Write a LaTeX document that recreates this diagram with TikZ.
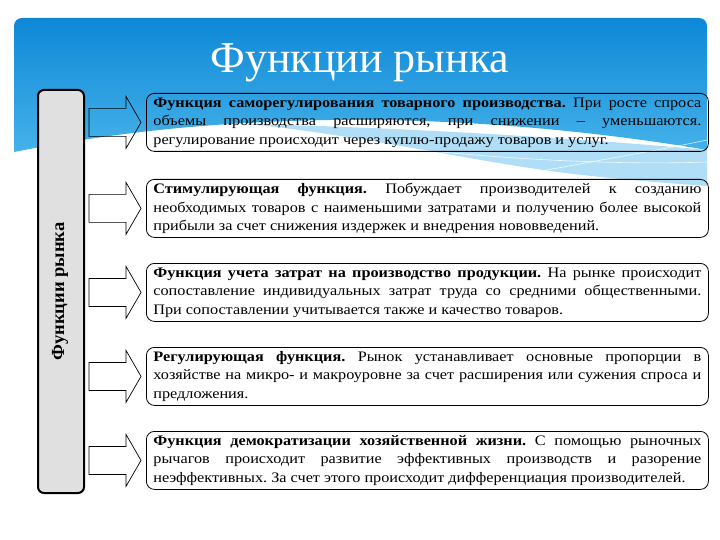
\documentclass[tikz,border=0pt]{standalone}
\usepackage{fontspec}
\setmainfont{Liberation Serif}
\newfontfamily\bodyfont[FakeStretch=1.12]{Liberation Serif}
\usetikzlibrary{calc}
\definecolor{bannerTop}{HTML}{0E88D6}
\definecolor{bannerBot}{HTML}{45B2EA}
\definecolor{swoosh}{HTML}{9DD6F4}
\definecolor{sidegray}{HTML}{E0E0E0}
\newcommand\blockarrow[1]{%
  \draw[barrow] ($(#1.west)+(-57,-14)$) -- ($(#1.west)+(-20,-14)$) -- ($(#1.west)+(-20,-26)$)
   -- ($(#1.west)+(-5,0)$) -- ($(#1.west)+(-20,26)$) -- ($(#1.west)+(-20,14)$)
   -- ($(#1.west)+(-57,14)$) -- cycle;}
\newcommand\jsetup{\tolerance=10000\relax\hyphenpenalty=10000\relax\frenchspacing}
\begin{document}
\begin{tikzpicture}[x=1pt,y=-1pt,
  txt/.style={draw=black, line width=0.8pt, rounded corners=8pt, text width=548pt,
    align=justify, inner xsep=7pt, inner ysep=3pt, minimum height=58pt, anchor=north west,
    font=\bodyfont\fontsize{14.5}{18.5}\selectfont, execute at begin node=\jsetup},
  barrow/.style={draw=black, line width=0.7pt},
  side/.style={draw=black, line width=2pt, rounded corners=6pt, fill=sidegray,
    minimum width=46pt, minimum height=403pt, inner sep=0pt},
]
\useasboundingbox (0,0) rectangle (720,540);
\fill[white] (0,0) rectangle (720,540);
% banner
\shade[top color=bannerTop, bottom color=bannerBot, rounded corners=8pt]
  (14,152) -- (14,18) -- (707,18) [sharp corners] -- (707,150)
  .. controls (620,135) and (480,118) .. (330,120)
  .. controls (200,122) and (100,135) .. (14,152) -- cycle;
\fill[swoosh, opacity=0.8]
  (250,124) .. controls (420,128) and (600,140) .. (707,150) -- (707,186)
  .. controls (650,182) and (580,176) .. (530,168)
  .. controls (450,156) and (360,136) .. (250,124) -- cycle;
\draw[white, line width=0.6pt, opacity=0.8] (420,150) .. controls (520,160) and (620,165) .. (707,162);
\draw[white, line width=0.6pt, opacity=0.8] (520,175) .. controls (600,160) and (660,150) .. (707,140);
% title
\node[anchor=base, text=white, font=\fontsize{44}{44}\selectfont] (title) at (360,73) {Функции рынка};
% side box
\node[side] (side) at (61,291.5) {};
\node[rotate=90, font=\fontsize{18.5}{18.5}\selectfont\bfseries] (sidetext) at ([xshift=-1pt]side.center) {Функции рынка};
% text boxes
\node[txt] (b1) at (146,93) {\textbf{Функция саморегулирования товарного производства.} При росте спроса\linebreak
объемы производства расширяются, при снижении – уменьшаются.\linebreak
регулирование происходит через куплю-продажу товаров и услуг.};
\node[txt] (b2) at (146,179) {\textbf{Стимулирующая функция.} Побуждает производителей к созданию\linebreak
необходимых товаров с наименьшими затратами и получению более высокой\linebreak
прибыли за счет снижения издержек и внедрения нововведений.};
\node[txt] (b3) at (146,263) {\textbf{Функция учета затрат на производство продукции.} На рынке происходит\linebreak
сопоставление индивидуальных затрат труда со средними общественными.\linebreak
При сопоставлении учитывается также и качество товаров.};
\node[txt] (b4) at (146,347) {\textbf{Регулирующая функция.} Рынок устанавливает основные пропорции в\linebreak
хозяйстве на микро- и макроуровне за счет расширения или сужения спроса и\linebreak
предложения.};
\node[txt] (b5) at (146,431) {\textbf{Функция демократизации хозяйственной жизни.} С помощью рыночных\linebreak
рычагов происходит развитие эффективных производств и разорение\linebreak
неэффективных. За счет этого происходит дифференциация производителей.};
% arrows
\blockarrow{b1}
\blockarrow{b2}
\blockarrow{b3}
\blockarrow{b4}
\blockarrow{b5}
\end{tikzpicture}
\end{document}
